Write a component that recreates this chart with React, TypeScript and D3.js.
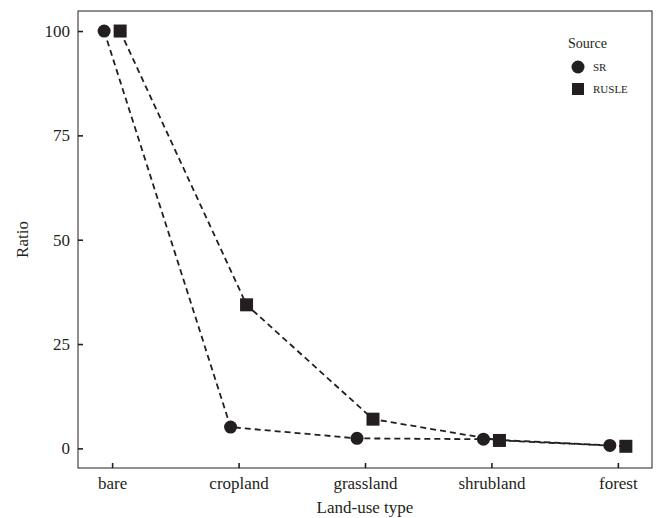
import React, { useEffect, useRef } from 'react';
import * as d3 from 'd3';

const landUse = ['bare', 'cropland', 'grassland', 'shrubland', 'forest'];
const srValues = [100, 5.1, 2.4, 2.2, 0.7];
const rusleValues = [100, 34.4, 7.0, 1.9, 0.5];
const yTicks = [0, 25, 50, 75, 100];

const W = 659, H = 518;
const ink = '#231f20';
const font = '"Liberation Serif", "DejaVu Serif", serif';

export default function App() {
  const ref = useRef<SVGSVGElement>(null);

  useEffect(() => {
    document.body.style.margin = '0';
    const svg = d3.select(ref.current);
    svg.selectAll('*').remove();
    const m = { t: 11, r: 7, b: 50, l: 78 };
    const iw = W - m.l - m.r, ih = H - m.t - m.b;
    const g = svg.append('g').attr('transform', `translate(${m.l},${m.t})`);

    const x = d3.scalePoint().domain(landUse).range([0, iw]).padding(0.27);
    const y = d3.scaleLinear().domain([-4.7, 104.8]).range([ih, 0]);
    const dodge = 8;

    const series = [
      { name: 'SR', values: srValues, off: -dodge, shape: 'circle' },
      { name: 'RUSLE', values: rusleValues, off: dodge, shape: 'square' },
    ];

    // axes, ticks pointing into the panel
    const xa = g.append('g').attr('transform', `translate(0,${ih})`)
      .call(d3.axisBottom(x).tickSizeInner(-5).tickSizeOuter(0).tickPadding(9));
    const ya = g.append('g').call(d3.axisLeft(y).tickValues(yTicks).tickSizeInner(-5).tickSizeOuter(0).tickPadding(8));
    [xa, ya].forEach(a => {
      a.select('.domain').remove();
      a.selectAll('line').attr('stroke', ink).attr('stroke-width', 1.6);
      a.selectAll('text').attr('fill', ink).style('font-family', font).style('font-size', '17px');
    });

    g.append('rect').attr('width', iw).attr('height', ih)
      .attr('fill', 'none').attr('stroke', ink).attr('stroke-width', 1);

    const line = d3.line<[number, number]>().x(d => d[0]).y(d => d[1]);
    series.forEach(s => {
      const pts = s.values.map((v, i) => [x(landUse[i])! + s.off, y(v)] as [number, number]);
      g.append('path').datum(pts).attr('d', line).attr('fill', 'none')
        .attr('stroke', ink).attr('stroke-width', 1.8).attr('stroke-dasharray', '6,4');
    });
    series.forEach(s => {
      s.values.forEach((v, i) => {
        const cx = x(landUse[i])! + s.off, cy = y(v);
        if (s.shape === 'circle') g.append('circle').attr('cx', cx).attr('cy', cy).attr('r', 6.5).attr('fill', ink);
        else g.append('rect').attr('x', cx - 6.5).attr('y', cy - 6.5).attr('width', 13).attr('height', 13).attr('fill', ink);
      });
    });

    // axis titles
    svg.append('text').attr('x', m.l + iw / 2).attr('y', 513).attr('text-anchor', 'middle')
      .attr('fill', ink).style('font-family', font).style('font-size', '17px').text('Land-use type');
    svg.append('text').attr('transform', `translate(28,${m.t + ih / 2}) rotate(-90)`).attr('text-anchor', 'middle')
      .attr('fill', ink).style('font-family', font).style('font-size', '17px').text('Ratio');

    // legend
    const lg = svg.append('g').attr('transform', 'translate(568,48)');
    lg.append('text').attr('x', 0).attr('y', 0).attr('fill', ink)
      .style('font-family', font).style('font-size', '14px').text('Source');
    lg.append('circle').attr('cx', 10).attr('cy', 19).attr('r', 6.5).attr('fill', ink);
    lg.append('text').attr('x', 25).attr('y', 23).attr('fill', ink)
      .style('font-family', font).style('font-size', '11px').text('SR');
    lg.append('rect').attr('x', 4).attr('y', 35).attr('width', 12).attr('height', 12).attr('fill', ink);
    lg.append('text').attr('x', 25).attr('y', 45).attr('fill', ink)
      .style('font-family', font).style('font-size', '11px').text('RUSLE');
  }, []);

  return <svg ref={ref} width={W} height={H} style={{ display: 'block', background: '#fff' }} />;
}
